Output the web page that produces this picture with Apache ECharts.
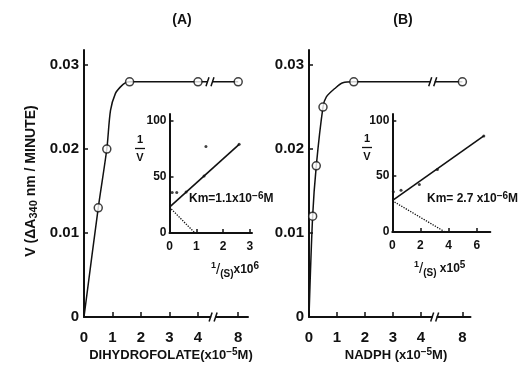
<!DOCTYPE html>
<html>
<head>
<meta charset="utf-8">
<script src="https://cdn.jsdelivr.net/npm/echarts@6/dist/echarts.min.js"></script>
<style>
  html, body { margin: 0; padding: 0; background: #fff; }
  #chart { width: 520px; height: 370px; }
</style>
</head>
<body>
<div id="chart"></div>
<script>
// ---- Saturation curves (concentration in 1e-5 M, rate in dA340/min) ----
const concA = [0.5, 0.8, 1.6, 4, 8];
const rateA = [0.013, 0.020, 0.028, 0.028, 0.028];
const concB = [0.13, 0.26, 0.5, 1.6, 8];
const rateB = [0.012, 0.018, 0.025, 0.028, 0.028];

// hand-fitted curves through the measurements
const curveConcA = [0, 0.5, 0.8, 0.93, 1.1, 1.28, 1.46, 1.6, 4, 8];
const curveRateA = [0, 0.013, 0.020, 0.0246, 0.0266, 0.0274, 0.0279, 0.028, 0.028, 0.028];
const curveConcB = [0, 0.13, 0.26, 0.5, 0.62, 0.92, 1.21, 1.6, 8];
const curveRateB = [0, 0.012, 0.018, 0.025, 0.0262, 0.0272, 0.0279, 0.028, 0.028];

const concTicks = [0, 1, 2, 3, 4, 8];
const rateTicks = [0, 0.01, 0.02, 0.03];

// ---- Double-reciprocal insets ----
const invSA = [0.1, 0.27, 0.62, 1.29, 1.36, 2.6];   // 1/[S] x 1e6
const invVA = [36, 36, 36.5, 50.8, 77, 79];
const fitInvSA = [0, 2.6];
const fitInvVA = [23, 79];
const kmInvSA = [0, 0.95];
const kmInvVA = [23, 0];

const invSB = [0.07, 0.62, 1.92, 3.2, 6.5];          // 1/[S] x 1e5
const invVB = [36, 37.3, 42.4, 56, 86];
const fitInvSB = [0, 6.5];
const fitInvVB = [28, 86];
const kmInvSB = [0, 3.75];
const kmInvVB = [28, 0];

const insetYTicks = [0, 50, 100];
const insetXTicksA = [0, 1, 2, 3];
const insetXTicksB = [0, 2, 4, 6];

// ---- broken concentration axis: values beyond 4 are pulled in ----
const BREAK_FROM = 4, BREAK_TO = 8;
function brokenPos(c, gapPos) { return c <= BREAK_FROM ? c : gapPos + (c - BREAK_TO); }
const posA = c => brokenPos(c, 5.41);
const posB = c => brokenPos(c, 5.48);

const FONT = '"Liberation Sans", Arial, sans-serif';
const INK = '#111';

function pairs(xs, ys, map) { return xs.map((x, i) => [map ? map(x) : x, ys[i]]); }

function tickLabelFor(ticks, map) {
  return v => {
    const i = ticks.findIndex(t => Math.abs(map(t) - v) < 1e-6);
    return i < 0 ? '' : String(ticks[i]);
  };
}

function mainXAxis(grid, max, map) {
  const vals = concTicks.map(map);
  return {
    gridIndex: grid, type: 'value', min: 0, max: max,
    axisLine: { onZero: false, lineStyle: { color: INK, width: 2 } },
    axisTick: { inside: true, length: 5, customValues: vals, lineStyle: { color: INK, width: 1.5 } },
    axisLabel: { customValues: vals, formatter: tickLabelFor(concTicks, map),
      color: INK, fontFamily: FONT, fontWeight: 'bold', fontSize: 15, margin: 13 },
    splitLine: { show: false }
  };
}
function mainYAxis(grid) {
  return {
    gridIndex: grid, type: 'value', min: 0, max: 0.03179,
    axisLine: { show: true, lineStyle: { color: INK, width: 2 } },
    axisTick: { show: true, inside: true, length: 4, customValues: rateTicks, lineStyle: { color: INK, width: 1.5 } },
    axisLabel: { customValues: rateTicks, formatter: v => v === 0 ? '0' : v.toFixed(2),
      color: INK, fontFamily: FONT, fontWeight: 'bold', fontSize: 15, margin: 5 },
    splitLine: { show: false }
  };
}
function insetXAxis(grid, max, ticks) {
  return {
    gridIndex: grid, type: 'value', min: 0, max: max,
    axisLine: { onZero: false, lineStyle: { color: INK, width: 2 } },
    axisTick: { inside: true, length: 4, customValues: ticks, lineStyle: { color: INK, width: 1.5 } },
    axisLabel: { customValues: ticks, formatter: v => String(v),
      color: INK, fontFamily: FONT, fontWeight: 'bold', fontSize: 12, margin: 8 },
    splitLine: { show: false }
  };
}
function insetYAxis(grid, max) {
  return {
    gridIndex: grid, type: 'value', min: 0, max: max,
    axisLine: { show: true, lineStyle: { color: INK, width: 2 } },
    axisTick: { show: true, inside: true, length: 4, customValues: insetYTicks, lineStyle: { color: INK, width: 1.5 } },
    axisLabel: { customValues: insetYTicks, formatter: v => String(v),
      color: INK, fontFamily: FONT, fontWeight: 'bold', fontSize: 12, margin: 3 },
    splitLine: { show: false }
  };
}

// "//" break glyph drawn at a data position
function breakMark(params, api) {
  const p = api.coord([api.value(0), api.value(1)]);
  const cx = p[0], cy = p[1];
  const st = { stroke: INK, lineWidth: 1.5 };
  return {
    type: 'group',
    children: [
      { type: 'rect', shape: { x: cx - 2, y: cy - 3, width: 4, height: 6 }, style: { fill: '#fff' } },
      { type: 'line', shape: { x1: cx - 4, y1: cy + 4.5, x2: cx - 1, y2: cy - 4.5 }, style: st },
      { type: 'line', shape: { x1: cx + 1, y1: cy + 4.5, x2: cx + 4, y2: cy - 4.5 }, style: st }
    ]
  };
}

function curveSeries(xi, yi, data) {
  return { type: 'line', xAxisIndex: xi, yAxisIndex: yi, data: data, smooth: 0.3,
    symbol: 'none', lineStyle: { color: INK, width: 1.5 }, z: 2, silent: true };
}
function circleSeries(xi, yi, data) {
  return { type: 'scatter', xAxisIndex: xi, yAxisIndex: yi, data: data, symbol: 'circle',
    symbolSize: 8, itemStyle: { color: '#fff', borderColor: INK, borderWidth: 1.5 }, z: 4, silent: true };
}
function dotSeries(xi, yi, data) {
  return { type: 'scatter', xAxisIndex: xi, yAxisIndex: yi, data: data, symbol: 'circle',
    symbolSize: 3, itemStyle: { color: INK }, z: 4, silent: true };
}
function straightSeries(xi, yi, data, type) {
  return { type: 'line', xAxisIndex: xi, yAxisIndex: yi, data: data, symbol: 'none',
    lineStyle: { color: INK, width: type === 'dotted' ? 1.3 : 1.6, type: type || 'solid' }, z: 3, silent: true };
}

const RICH = {
  n: { fontFamily: FONT, fontWeight: 'bold', fontSize: 13, lineHeight: 16, fill: INK },
  t: { fontFamily: FONT, fontWeight: 'bold', fontSize: 14, lineHeight: 17, fill: INK },
  sub: { fontFamily: FONT, fontWeight: 'bold', fontSize: 11, lineHeight: 6, verticalAlign: 'bottom', fill: INK },
  sup: { fontFamily: FONT, fontWeight: 'bold', fontSize: 10, lineHeight: 6, verticalAlign: 'top', fill: INK },
  k: { fontFamily: FONT, fontWeight: 'bold', fontSize: 12, lineHeight: 16, fill: INK },
  ks: { fontFamily: FONT, fontWeight: 'bold', fontSize: 10, lineHeight: 5, verticalAlign: 'top', fill: INK },
  one: { fontFamily: FONT, fontWeight: 'bold', fontSize: 9, lineHeight: 6, verticalAlign: 'top', fill: INK },
  sl: { fontFamily: FONT, fontSize: 15, lineHeight: 18, fill: INK },
  s: { fontFamily: FONT, fontWeight: 'bold', fontSize: 10, lineHeight: 6, verticalAlign: 'bottom', fill: INK }
};

function txt(x, y, text, extra, rotation) {
  return {
    type: 'text', x: x, y: y, rotation: rotation || 0, silent: true,
    style: Object.assign({ text: text, rich: RICH, fill: INK, font: 'bold 13px ' + FONT,
      align: 'center', verticalAlign: 'middle' }, extra || {})
  };
}
function overV(cx, yTop) {
  return [
    txt(cx, yTop, '1', { font: 'bold 11px ' + FONT }),
    { type: 'line', silent: true, shape: { x1: cx - 5, y1: yTop + 8.5, x2: cx + 5, y2: yTop + 8.5 },
      style: { stroke: INK, lineWidth: 1.3 } },
    txt(cx, yTop + 18, 'V', { font: 'bold 11px ' + FONT })
  ];
}

const chart = echarts.init(document.getElementById('chart'), null, { renderer: 'canvas' });

chart.setOption({
  animation: false,
  backgroundColor: '#fff',
  grid: [
    { left: 84, top: 50, width: 164, height: 267 },
    { left: 309, top: 50, width: 161.5, height: 267 },
    { left: 169.5, top: 114, width: 82.5, height: 119 },
    { left: 392.3, top: 114, width: 98, height: 118 }
  ],
  xAxis: [
    mainXAxis(0, 5.754, posA),
    mainXAxis(1, 5.77, posB),
    insetXAxis(2, 3.08, insetXTicksA),
    insetXAxis(3, 6.96, insetXTicksB)
  ],
  yAxis: [
    mainYAxis(0),
    mainYAxis(1),
    insetYAxis(2, 106),
    insetYAxis(3, 105.6)
  ],
  series: [
    curveSeries(0, 0, pairs(curveConcA, curveRateA, posA)),
    circleSeries(0, 0, pairs(concA, rateA, posA)),
    curveSeries(1, 1, pairs(curveConcB, curveRateB, posB)),
    circleSeries(1, 1, pairs(concB, rateB, posB)),
    { type: 'custom', xAxisIndex: 0, yAxisIndex: 0, renderItem: breakMark, z: 5, silent: true,
      data: [[4.42, rateA[rateA.length - 1]], [4.53, 0]], clip: false },
    { type: 'custom', xAxisIndex: 1, yAxisIndex: 1, renderItem: breakMark, z: 5, silent: true,
      data: [[4.42, rateB[rateB.length - 1]], [4.49, 0]], clip: false },

    straightSeries(2, 2, pairs(fitInvSA, fitInvVA)),
    straightSeries(2, 2, pairs(kmInvSA, kmInvVA), 'dotted'),
    dotSeries(2, 2, pairs(invSA, invVA)),
    straightSeries(3, 3, pairs(fitInvSB, fitInvVB)),
    straightSeries(3, 3, pairs(kmInvSB, kmInvVB), 'dotted'),
    dotSeries(3, 3, pairs(invSB, invVB))
  ],
  graphic: [
    txt(182, 20, '(A)', { font: 'bold 14px ' + FONT }),
    txt(403, 20, '(B)', { font: 'bold 14px ' + FONT }),
    txt(31, 181, '{t|V (ΔA}{sub|340}{t| nm / MINUTE)}', {}, Math.PI / 2),
    txt(171, 355, '{n|DIHYDROFOLATE(x10}{sup|−5}{n|M)}'),
    txt(396, 355, '{n|NADPH (x10}{sup|−5}{n|M)}'),
    txt(189, 199, '{k|Km=1.1x10}{ks|−6}{k|M}', { align: 'left' }),
    txt(427, 199, '{k|Km= 2.7 x10}{ks|−6}{k|M}', { align: 'left' }),
    txt(211, 270, '{one|1}{sl|/}{s|(S)}{k|x10}{ks|6}', { align: 'left' }),
    txt(414, 269, '{one|1}{sl|/}{s|(S)}{k| x10}{ks|5}', { align: 'left' })
  ].concat(overV(140, 140), overV(367, 139))
});
</script>
</body>
</html>
